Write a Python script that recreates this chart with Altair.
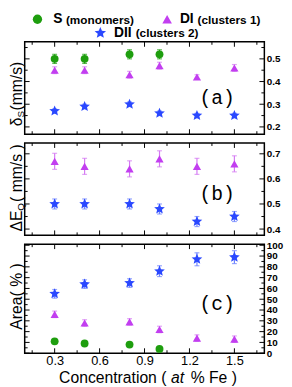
import altair as alt
import pandas as pd

# ---------------- data ----------------
conc = [0.3, 0.5, 0.8, 1.0, 1.25, 1.5]
conc_S = [0.3, 0.5, 0.8, 1.0]

a_S = [0.50, 0.50, 0.52, 0.52]
a_S_err = [0.02, 0.02, 0.02, 0.02]
a_DI = [0.45, 0.45, 0.43, 0.47, 0.42, 0.46]
a_DI_err = [0.015, 0.015, 0.015, 0.015, 0.01, 0.015]
a_DII = [0.27, 0.29, 0.30, 0.26, 0.25, 0.25]
a_DII_err = [0.01, 0.01, 0.01, 0.01, 0.01, 0.01]

b_DI = [0.67, 0.65, 0.64, 0.68, 0.65, 0.66]
b_DI_err = [0.032, 0.032, 0.032, 0.032, 0.032, 0.032]
b_DII = [0.50, 0.50, 0.50, 0.48, 0.43, 0.45]
b_DII_err = [0.02, 0.02, 0.02, 0.02, 0.02, 0.02]

c_S = [11, 9, 8, 4]
c_S_err = [1, 1, 1, 1]
c_DI = [36, 28, 29, 22, 14, 13]
c_DI_err = [3, 3, 3, 3, 3, 3]
c_DII = [55, 64, 65, 76, 87, 89]
c_DII_err = [4, 4, 4, 5, 6, 6]

x_major = [0.3, 0.6, 0.9, 1.2, 1.5]
x_minor = [0.15, 0.45, 0.75, 1.05, 1.35, 1.65]
a_major = [0.2, 0.3, 0.4, 0.5]
a_minor = [0.25, 0.35, 0.45, 0.55]
b_major = [0.4, 0.5, 0.6, 0.7]
b_minor = [0.45, 0.55, 0.65]
c_major = [0, 10, 20, 30, 40, 50, 60, 70, 80, 90, 100]
c_minor = [5, 15, 25, 35, 45, 55, 65, 75, 85, 95]

legend_keys = ["S", "DI", "DII"]
legend_rest = ["(monomers)", "(clusters 1)", "(clusters 2)"]

# ---------------- styles ----------------
GREEN = "#1e9e0e"
PURPLE = "#c23ef0"
PURPLE_ERR = "#d47af2"
BLUE = "#2a48ff"
BLUE_ERR = "#6c82ff"
STAR = ("M0,-1L0.2645,-0.364L0.951,-0.309L0.428,0.139L0.588,0.809L0,0.45"
        "L-0.588,0.809L-0.428,0.139L-0.951,-0.309L-0.2645,-0.364Z")
SANS = "Liberation Sans"

W = 244
XS = alt.Scale(domain=[0.1, 1.7], nice=False, zero=False)
one = pd.DataFrame({"d": [0]})


def x_enc(field, show):
    if show:
        ax = alt.Axis(values=x_major, ticks=False, domain=False, grid=False,
                      labelFontSize=13, labelFont=SANS, labelColor="black",
                      labelPadding=2, title=None, format=".1f")
    else:
        ax = None
    return alt.X(field, type="quantitative", scale=XS, axis=ax)


def y_enc(field, ys, labels, fmt):
    ax = alt.Axis(orient="right", values=labels, ticks=False, domain=False,
                  grid=False, labelFontSize=10, labelFontWeight="bold",
                  labelFont=SANS, labelColor="black", labelPadding=2,
                  labelOverlap=False, title=None, format=fmt)
    return alt.Y(field, type="quantitative", scale=ys, axis=ax)


def series(xs, ys_vals, errs, ysc, labels, fmt, color, ecolor, shape, size, showx):
    df = pd.DataFrame({
        "c": xs,
        "v": ys_vals,
        "lo": [v - e for v, e in zip(ys_vals, errs)],
        "hi": [v + e for v, e in zip(ys_vals, errs)],
    })
    err = alt.Chart(df).mark_errorbar(
        ticks={"size": 5}, color=ecolor, thickness=1.2
    ).encode(
        x=x_enc("c", showx), y=y_enc("lo", ysc, labels, fmt), y2="hi"
    )
    pts = alt.Chart(df).mark_point(
        filled=True, shape=shape, size=size, color=color, opacity=1
    ).encode(x=x_enc("c", showx), y=y_enc("v", ysc, labels, fmt))
    return [err, pts]


def ticks(H, ysc, labels, fmt, ymaj, ymin, showx):
    out = []
    for vals, L in [(x_major, 5), (x_minor, 3)]:
        d = pd.DataFrame({"t": vals})
        out.append(alt.Chart(d).mark_rule(color="black", strokeWidth=1).encode(
            x=x_enc("t", showx), y=alt.value(H), y2=alt.value(H - L)))
        out.append(alt.Chart(d).mark_rule(color="black", strokeWidth=1).encode(
            x=x_enc("t", showx), y=alt.value(0), y2=alt.value(L)))
    for vals, L in [(ymaj, 5), (ymin, 3)]:
        d = pd.DataFrame({"t": vals})
        out.append(alt.Chart(d).mark_rule(color="black", strokeWidth=1).encode(
            y=y_enc("t", ysc, labels, fmt), x=alt.value(0), x2=alt.value(L)))
        out.append(alt.Chart(d).mark_rule(color="black", strokeWidth=1).encode(
            y=y_enc("t", ysc, labels, fmt), x=alt.value(W), x2=alt.value(W - L)))
    return out


def txt(t, x, y, size, font=SANS, weight="normal", style="normal", angle=0,
        align="left", baseline="middle"):
    return alt.Chart(one).mark_text(
        text=t, font=font, fontSize=size, fontWeight=weight, fontStyle=style,
        angle=angle, align=align, baseline=baseline, color="black"
    ).encode(x=alt.value(x), y=alt.value(y))


def sym(shape, size, color, x, y):
    return alt.Chart(one).mark_point(
        filled=True, shape=shape, size=size, color=color, opacity=1
    ).encode(x=alt.value(x), y=alt.value(y))


def spacer(H, ext):
    # keeps a few px of white below a panel (layout spacing only)
    return alt.Chart(one).mark_rule(color="white", strokeWidth=1).encode(
        x=alt.value(W / 2), y=alt.value(H + 1), y2=alt.value(H + ext))


TF = 16   # y-title font size
TX = -8   # y-title centre

# ---------------- legend (drawn above panel a) ----------------
R1, R2 = -23, -9
legend_layers = [
    sym("circle", 90, GREEN, 13, R1),
    txt(legend_keys[0], 29, R1, 14, weight="bold"),
    txt(legend_rest[0], 42, R1 + 0.5, 12, weight="bold"),
    sym("triangle-up", 95, PURPLE, 145, R1),
    txt(legend_keys[1], 158, R1, 14, weight="bold"),
    txt(legend_rest[1], 176, R1 + 0.5, 12, weight="bold"),
    sym(STAR, 150, BLUE, 77, R2),
    txt(legend_keys[2], 91, R2, 14, weight="bold"),
    txt(legend_rest[2], 113, R2 + 0.5, 12, weight="bold"),
]

# ---------------- panel (a) ----------------
Ha = 94
ysa = alt.Scale(domain=[0.168, 0.575], nice=False, zero=False)
la = ticks(Ha, ysa, a_major, ".1f", a_major, a_minor, False)
la += series(conc_S, a_S, a_S_err, ysa, a_major, ".1f", GREEN, GREEN, "circle", 64, False)
la += series(conc, a_DI, a_DI_err, ysa, a_major, ".1f", PURPLE, PURPLE_ERR, "triangle-up", 70, False)
la += series(conc, a_DII, a_DII_err, ysa, a_major, ".1f", BLUE, BLUE_ERR, STAR, 130, False)
la += [
    txt("(a)", 196, 57, 20, font="Liberation Mono", align="center"),
    txt("\u03b4", TX, 86, TF, angle=270),
    txt("S", TX + 4, 77, 10, angle=270),
    txt("(mm/s)", TX, 70, TF, angle=270),
    spacer(Ha, 3.5),
]
la += legend_layers
panel_a = alt.layer(*la).properties(width=W, height=Ha)

# ---------------- panel (b) ----------------
Hb = 94
ysb = alt.Scale(domain=[0.375, 0.743], nice=False, zero=False)
lb = ticks(Hb, ysb, b_major, ".1f", b_major, b_minor, False)
lb += series(conc, b_DI, b_DI_err, ysb, b_major, ".1f", PURPLE, PURPLE_ERR, "triangle-up", 70, False)
lb += series(conc, b_DII, b_DII_err, ysb, b_major, ".1f", BLUE, BLUE_ERR, STAR, 130, False)
lb += [
    txt("(b)", 196, 52, 20, font="Liberation Mono", align="center"),
    txt("\u0394E", TX, 90, TF, angle=270),
    txt("Q", TX + 4, 69, 10, angle=270),
    txt("( mm/s )", TX, 60, TF, angle=270),
]
panel_b = alt.layer(*lb).properties(width=W, height=Hb)

# ---------------- panel (c) ----------------
Hc = 111
ysc = alt.Scale(domain=[0, 101], nice=False, zero=False)
lc = ticks(Hc, ysc, c_major, "d", c_major, c_minor, True)
lc += series(conc_S, c_S, c_S_err, ysc, c_major, "d", GREEN, GREEN, "circle", 64, True)
lc += series(conc, c_DI, c_DI_err, ysc, c_major, "d", PURPLE, PURPLE_ERR, "triangle-up", 70, True)
lc += series(conc, c_DII, c_DII_err, ysc, c_major, "d", BLUE, BLUE_ERR, STAR, 130, True)
lc += [
    txt("(c)", 196, 61, 20, font="Liberation Mono", align="center"),
    txt("Area( % )", TX, 87, TF, angle=270),
    txt("Concentration (", 35, 136, 16),
    txt("at", 149, 136, 16, style="italic"),
    txt("% Fe )", 169, 136, 16),
]
panel_c = alt.layer(*lc).properties(width=W, height=Hc)

chart = alt.vconcat(panel_a, panel_b, panel_c, spacing=2).properties(
    padding=0, background="white"
).configure_view(stroke="black", strokeWidth=1.5)

chart.save("out.html", embed_options={"renderer": "svg", "actions": False})
